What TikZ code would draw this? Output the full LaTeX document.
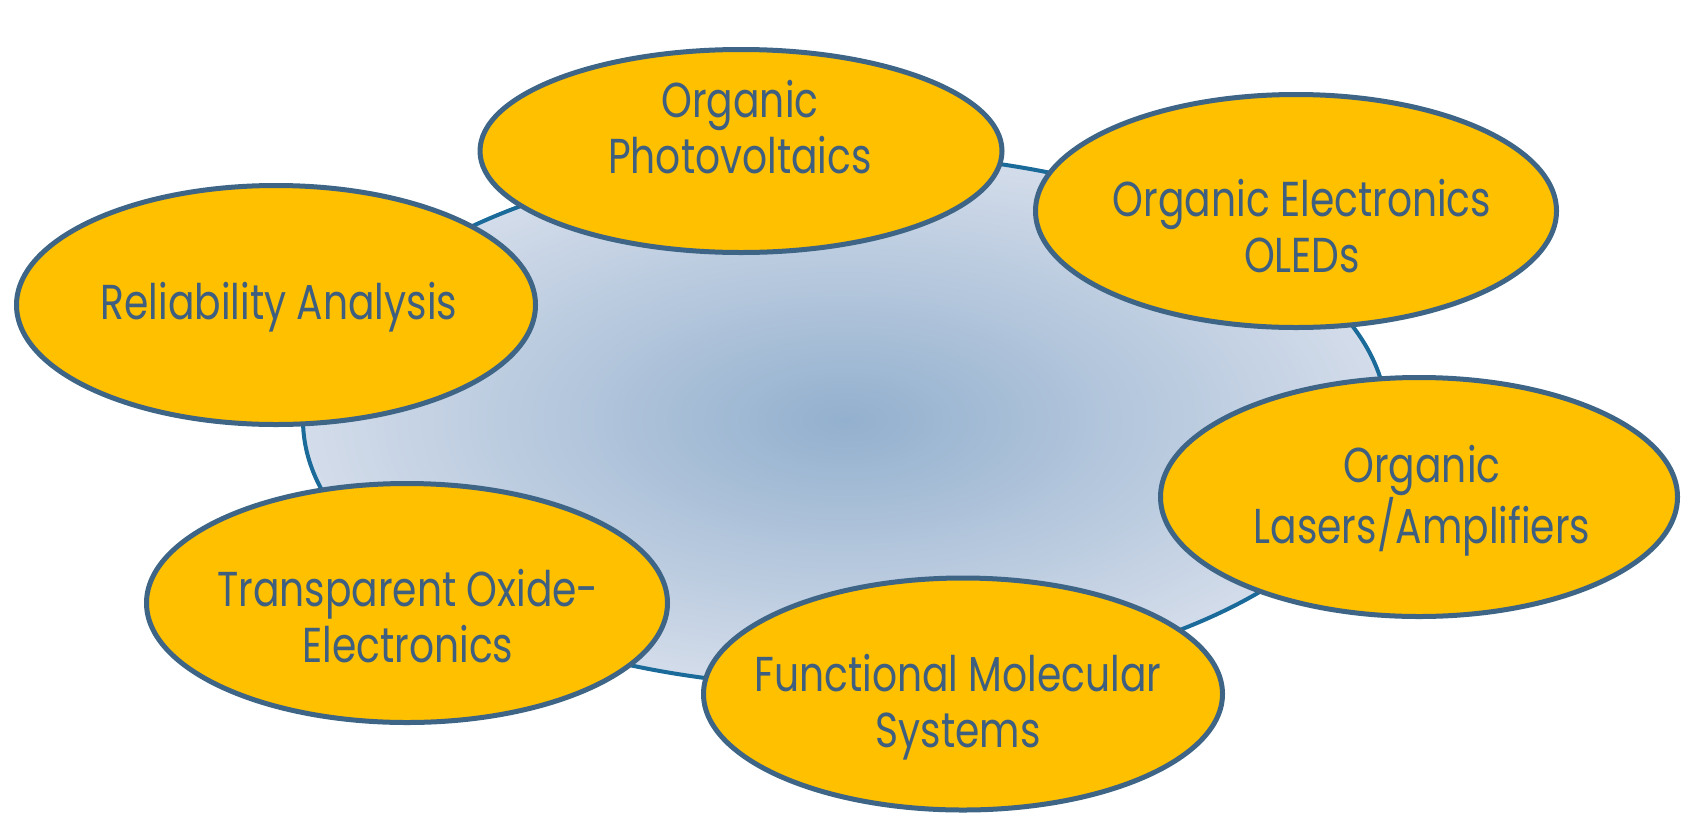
\documentclass[tikz,border=0pt]{standalone}
\usepackage{fontspec}
\setmainfont[FakeStretch=0.8]{Poppins}
\usetikzlibrary{shapes.geometric}
\definecolor{petal}{HTML}{FFC000}
\definecolor{petalline}{HTML}{3E6585}
\definecolor{petaltext}{HTML}{3E5F80}
\definecolor{hubline}{HTML}{1A6A9A}
\definecolor{hubin}{HTML}{93B0CE}
\definecolor{hubout}{HTML}{D3DCEA}
\tikzset{
  hub/.style={ellipse, draw=hubline, line width=4pt, inner color=hubin, outer color=hubout,
    minimum width=1084pt, minimum height=534pt, inner sep=0pt},
  petal/.style={ellipse, draw=petalline, line width=5pt, fill=petal, inner sep=0pt},
  caption/.style={anchor=base, align=center, text=petaltext, inner sep=0pt,
    font=\fontsize{49}{56}\selectfont}
}
\begin{document}
\begin{tikzpicture}[x=1pt,y=-1pt]
\useasboundingbox (0,0) rectangle (1688,817);
% central hub
\node[hub] (hub) at (845,420) {};
% petals
\node[petal, minimum width=522pt, minimum height=203pt] (opv) at (741,151) {};
\node[petal, minimum width=521pt, minimum height=233pt] (oled) at (1296,211) {};
\node[petal, minimum width=519pt, minimum height=239pt] (rel) at (276,305) {};
\node[petal, minimum width=517pt, minimum height=239pt] (las) at (1419,497) {};
\node[petal, minimum width=521pt, minimum height=239pt] (tox) at (407,603) {};
\node[petal, minimum width=519pt, minimum height=232pt] (fms) at (963,694) {};
% captions, placed on the baseline of their last line
\node[caption] (opv-t) at (740,173) {Organic\\Photovoltaics};
\node[caption] (oled-t) at (1302,272) {Organic Electronics\\OLEDs};
\node[caption] (rel-t) at (279,319) {Reliability Analysis};
\node[caption] (las-t) at (1422,543) {Organic\\Lasers/Amplifiers};
\node[caption] (tox-t) at (408,662) {Transparent Oxide-\\Electronics};
\node[caption] (fms-t) at (958,747) {Functional Molecular\\Systems};
\end{tikzpicture}
\end{document}
